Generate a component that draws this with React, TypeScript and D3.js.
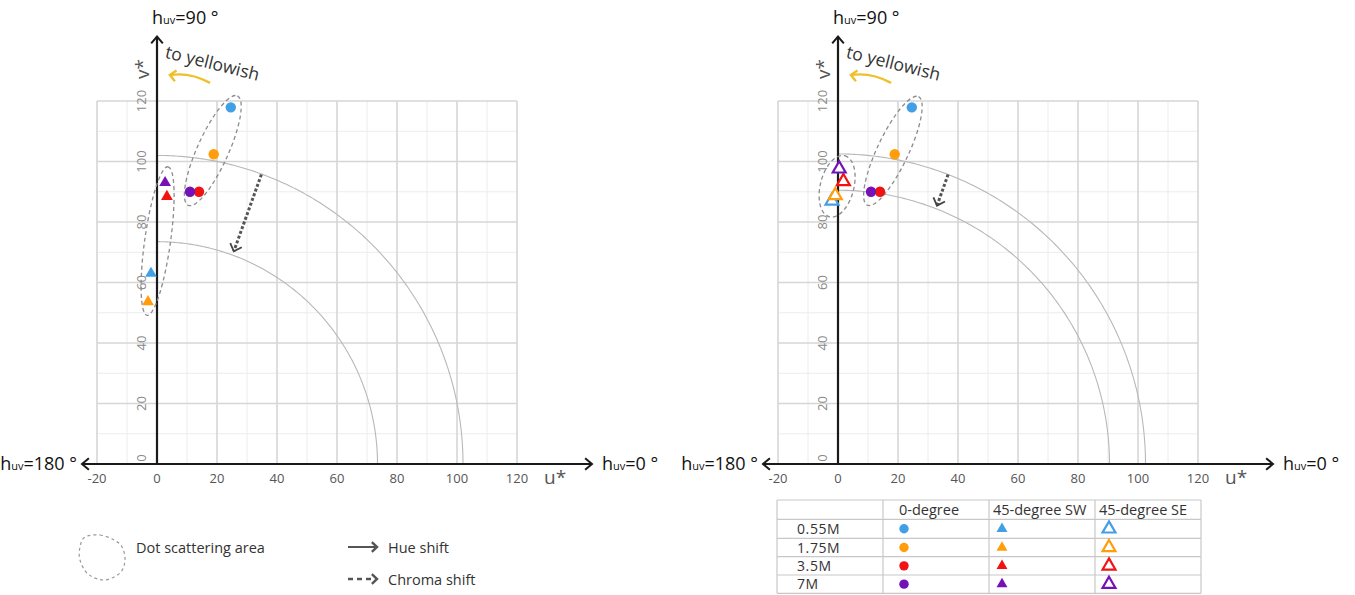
import React from "react";
import * as d3 from "d3";

// ---------- data ----------
const uTicks = [-20, 0, 20, 40, 60, 80, 100, 120];
const vTicks = [0, 20, 40, 60, 80, 100, 120];
const minorTicksU = [-10, 10, 30, 50, 70, 90, 110];
const minorTicksV = [10, 30, 50, 70, 90, 110];
const concentrations = ["0.55M", "1.75M", "3.5M", "7M"];
const seriesColors = ["#419FE6", "#FF9D0A", "#F21212", "#7412B8"];
const orientationLabels = ["0-degree", "45-degree SW", "45-degree SE"];

// 0-degree (filled circles)
const zeroU = [24.6, 18.9, 14.0, 11.0];
const zeroV = [117.9, 102.4, 90.0, 90.0];
// 45-degree SW (filled triangles)
const swU = [-2.0, -3.0, 3.3, 2.7];
const swV = [63.0, 53.6, 88.4, 93.0];
// 45-degree SE (open triangles)
const seU = [-2.0, -0.9, 1.8, 0.4];
const seV = [87.0, 88.8, 93.4, 97.6];

// chroma circles
const leftRadii = [73.5, 102];
const rightRadii = [90.5, 102.5];

// dot scattering areas (centre u,v ; semi axes in data units ; rotation deg)
const leftAreas = [
  { u: 18.6, v: 103.6, a: 20, b: 5.2, angle: -65.8 },
  { u: 0.2, v: 73.7, a: 25, b: 4.3, angle: -82 },
];
const rightAreas = [
  { u: 18.3, v: 103.5, a: 20, b: 5.2, angle: -64.7 },
  { u: -0.3, v: 91.8, a: 10.5, b: 5.6, angle: -76 },
];
// chroma shift arrows
const leftChroma = { from: [34.8, 95.7], to: [25.6, 70.3] };
const rightChroma = { from: [36.7, 95.7], to: [33.0, 85.4] };

const FONT = "'Open Sans', 'Noto Sans', sans-serif";

function HLabel({ x, y, deg, anchor = "start" }: any) {
  return (
    <text x={x} y={y} fontSize={18} fill="#111" textAnchor={anchor} fontFamily={FONT}>
      <tspan>h</tspan>
      <tspan fontSize={11}>uv</tspan>
      <tspan>{`=${deg} °`}</tspan>
    </text>
  );
}

function chevron(tipX: number, tipY: number, dirX: number, dirY: number, len: number, spread: number) {
  const ang = Math.atan2(dirY, dirX);
  const a1 = ang + Math.PI - spread;
  const a2 = ang + Math.PI + spread;
  return `M${tipX + len * Math.cos(a1)},${tipY + len * Math.sin(a1)}L${tipX},${tipY}L${tipX + len * Math.cos(a2)},${tipY + len * Math.sin(a2)}`;
}

const triPath = (size: number) => d3.symbol().type(d3.symbolTriangle).size(size)() as string;

function Chart({ x0, radii, second, areas, chroma }: any) {
  const x = d3.scaleLinear().domain([-20, 120]).range([x0 - 60, x0 + 360]);
  const y = d3.scaleLinear().domain([0, 120]).range([464, 101]);
  const pxU = x(1) - x(0);
  const arcPath = (r: number) => {
    const pts = d3.range(0, 90.5, 0.5).map((d) => [x(r * Math.cos((d * Math.PI) / 180)), y(r * Math.sin((d * Math.PI) / 180))]);
    return d3.line()(pts as any) as string;
  };
  const xMin = -25, xMax = 145, yMax = 141.3;
  const cf = chroma.from, ct = chroma.to;
  const cfx = x(cf[0]), cfy = y(cf[1]), ctx = x(ct[0]), cty = y(ct[1]);
  return (
    <g>
      {/* minor grid */}
      {minorTicksU.map((t) => (
        <line key={"mu" + t} x1={x(t)} x2={x(t)} y1={y(0)} y2={y(120)} stroke="#ececec" strokeWidth={1} />
      ))}
      {minorTicksV.map((t) => (
        <line key={"mv" + t} x1={x(-20)} x2={x(120)} y1={y(t)} y2={y(t)} stroke="#ececec" strokeWidth={1} />
      ))}
      {/* major grid */}
      {uTicks.map((t) => (
        <line key={"u" + t} x1={x(t)} x2={x(t)} y1={y(0)} y2={y(120)} stroke="#d6d6d6" strokeWidth={1.6} />
      ))}
      {vTicks.map((t) => (
        <line key={"v" + t} x1={x(-20)} x2={x(120)} y1={y(t)} y2={y(t)} stroke="#d6d6d6" strokeWidth={1.6} />
      ))}
      {/* chroma arcs */}
      {radii.map((r: number) => (
        <path key={"r" + r} d={arcPath(r)} fill="none" stroke="#b8b8b8" strokeWidth={1.1} />
      ))}
      {/* axes */}
      <line x1={x(xMin)} x2={x(xMax)} y1={y(0)} y2={y(0)} stroke="#1a1a1a" strokeWidth={2.2} />
      <line x1={x(0)} x2={x(0)} y1={y(0)} y2={y(yMax)} stroke="#1a1a1a" strokeWidth={2.2} />
      <path d={chevron(x(xMax), y(0), 1, 0, 9, 0.7)} fill="none" stroke="#1a1a1a" strokeWidth={2} />
      <path d={chevron(x(xMin), y(0), -1, 0, 9, 0.7)} fill="none" stroke="#1a1a1a" strokeWidth={2} />
      <path d={chevron(x(0), y(yMax), 0, -1, 9, 0.7)} fill="none" stroke="#1a1a1a" strokeWidth={2} />
      {/* tick labels */}
      {uTicks.map((t) => (
        <text key={"tu" + t} x={x(t)} y={483} fontSize={13} fill="#555" textAnchor="middle" fontFamily={FONT}>
          {t}
        </text>
      ))}
      {vTicks.map((t) => (
        <text
          key={"tv" + t}
          transform={`translate(${x0 - 15.5},${Math.min(y(t), 458)}) rotate(-90)`}
          dy="0.35em"
          fontSize={13}
          fill="#8a8a8a"
          textAnchor="middle"
          fontFamily={FONT}
        >
          {t}
        </text>
      ))}
      <text x={x(132.7)} y={484} fontSize={19} fill="#555" textAnchor="middle" fontFamily={FONT}>
        u*
      </text>
      <text transform={`translate(${x0 - 15},${y(130.6)}) rotate(-90)`} dy="0.35em" fontSize={19} fill="#555" textAnchor="middle" fontFamily={FONT}>
        v*
      </text>
      <HLabel x={x0 - 5} y={24} deg={90} />
      <HLabel x={x(xMin) - 5} y={470} deg={180} anchor="end" />
      <HLabel x={x(xMax) + 10} y={470} deg={0} />
      {/* to yellowish */}
      <path
        d={`M${x(17.7)},${y(126)} Q${x(11)},${y(129.6)} ${x(4.3)},${y(128.6)}`}
        fill="none"
        stroke="#EFC02A"
        strokeWidth={2.4}
      />
      <path d={chevron(x(4.3), y(128.6), -1, -0.15, 8, 0.75)} fill="none" stroke="#EFC02A" strokeWidth={2.4} />
      <text transform={`translate(${x(2.4)},${y(134.4)}) rotate(14)`} fontSize={17.5} fill="#333" fontFamily={FONT}>
        to yellowish
      </text>
      {/* scattering areas */}
      {areas.map((e: any, i: number) => (
        <ellipse
          key={"e" + i}
          cx={x(e.u)}
          cy={y(e.v)}
          rx={e.a * pxU}
          ry={e.b * pxU}
          transform={`rotate(${e.angle},${x(e.u)},${y(e.v)})`}
          fill="none"
          stroke="#8c8c8c"
          strokeWidth={1.3}
          strokeDasharray="4,3"
        />
      ))}
      {/* chroma shift arrow */}
      <line x1={cfx} y1={cfy} x2={ctx} y2={cty} stroke="#555" strokeWidth={3} strokeDasharray="3,2" />
      <path d={chevron(ctx, cty, ctx - cfx, cty - cfy, 9, 0.75)} fill="none" stroke="#444" strokeWidth={1.8} />
      {/* points */}
      {zeroU.map((u, i) => (
        <circle key={"c" + i} cx={x(u)} cy={y(zeroV[i])} r={5.2} fill={seriesColors[i]} />
      ))}
      {second.u.map((u: number, i: number) =>
        second.open ? (
          <path
            key={"t" + i}
            d={triPath(72)}
            transform={`translate(${x(u)},${y(second.v[i])})`}
            fill="white"
            stroke={seriesColors[i]}
            strokeWidth={2.2}
          />
        ) : (
          <path key={"t" + i} d={triPath(60)} transform={`translate(${x(u)},${y(second.v[i])})`} fill={seriesColors[i]} />
        )
      )}
    </g>
  );
}

function Legend() {
  const blob = [
    [85, 537],
    [100, 535],
    [114, 540],
    [122, 547],
    [125, 560],
    [120, 573],
    [104, 580],
    [88, 574],
    [80, 560],
    [80, 547],
  ];
  const blobPath = d3.line().curve(d3.curveCardinalClosed)(blob as any) as string;
  return (
    <g fontFamily={FONT}>
      <path d={blobPath} fill="none" stroke="#999" strokeWidth={1.2} strokeDasharray="3,3" />
      <text x={136} y={553} fontSize={14.5} fill="#333">
        Dot scattering area
      </text>
      <line x1={348} x2={375} y1={547} y2={547} stroke="#555" strokeWidth={2} />
      <path d={chevron(377, 547, 1, 0, 7, 0.75)} fill="none" stroke="#555" strokeWidth={2.4} />
      <text x={388} y={552.5} fontSize={14.5} fill="#333">
        Hue shift
      </text>
      <line x1={348} x2={373} y1={579} y2={579} stroke="#555" strokeWidth={2.4} strokeDasharray="5,4" />
      <path d={chevron(377, 579, 1, 0, 7, 0.75)} fill="none" stroke="#555" strokeWidth={2.4} />
      <text x={388} y={584.5} fontSize={14.5} fill="#333">
        Chroma shift
      </text>
    </g>
  );
}

function Table() {
  const colX = [777, 883, 989, 1095, 1201];
  const rowY = [500, 519.3, 538.3, 556.7, 575, 593.3];
  const symX = [904, 1002, 1109];
  return (
    <g fontFamily={FONT}>
      {rowY.map((ry, i) => (
        <line key={"r" + i} x1={colX[0]} x2={colX[4]} y1={ry} y2={ry} stroke="#c8c8c8" strokeWidth={1.2} />
      ))}
      {colX.map((cx, i) => (
        <line key={"c" + i} x1={cx} x2={cx} y1={rowY[0]} y2={rowY[5]} stroke="#c8c8c8" strokeWidth={1.2} />
      ))}
      {orientationLabels.map((l, i) => (
        <text key={l} x={colX[i + 1] + (i === 0 ? 16 : 4)} y={515} fontSize={14.5} fill="#333">
          {l}
        </text>
      ))}
      {concentrations.map((c, i) => {
        const cy = (rowY[i + 1] + rowY[i + 2]) / 2;
        return (
          <g key={c}>
            <text x={797} y={cy + 5} fontSize={14} letterSpacing={0.6} fill="#333">
              {c}
            </text>
            <circle cx={symX[0]} cy={cy} r={4.7} fill={seriesColors[i]} />
            <path d={triPath(52)} transform={`translate(${symX[1]},${cy})`} fill={seriesColors[i]} />
            <path d={triPath(72)} transform={`translate(${symX[2]},${cy})`} fill="white" stroke={seriesColors[i]} strokeWidth={2.2} />
          </g>
        );
      })}
    </g>
  );
}

export default function App() {
  return (
    <svg width={1355} height={595} style={{ position: "absolute", left: 0, top: 0, background: "white" }}>
      <Chart x0={157} radii={leftRadii} second={{ u: swU, v: swV, open: false }} areas={leftAreas} chroma={leftChroma} />
      <Chart x0={838} radii={rightRadii} second={{ u: seU, v: seV, open: true }} areas={rightAreas} chroma={rightChroma} />
      <Legend />
      <Table />
    </svg>
  );
}
